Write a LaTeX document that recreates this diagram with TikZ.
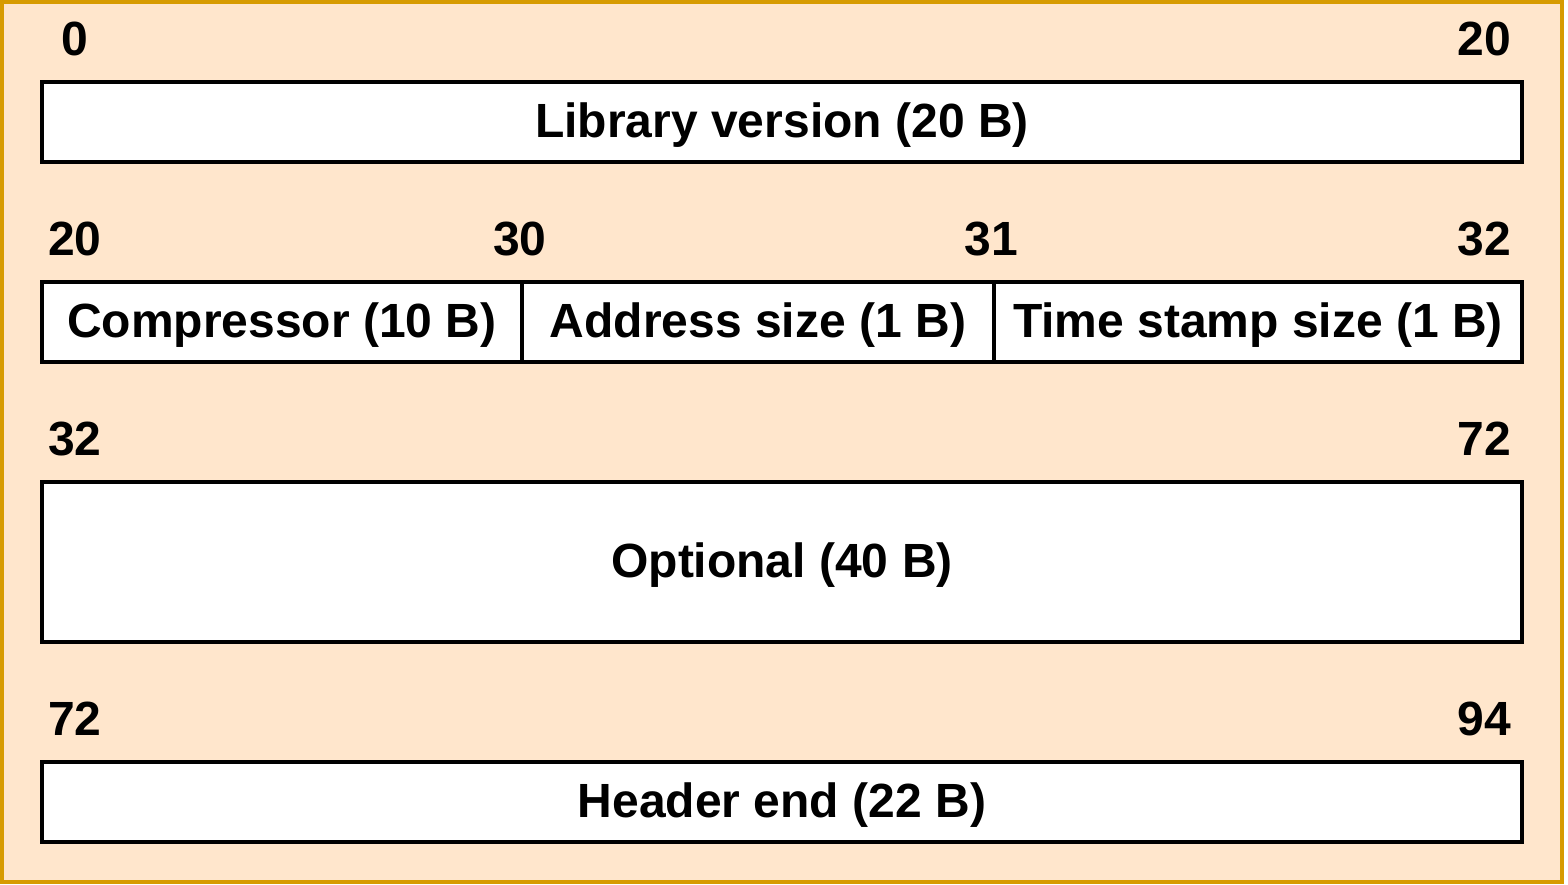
\documentclass[tikz,border=0pt]{standalone}
\usepackage{fontspec}
\setmainfont{Liberation Sans}
\definecolor{bgfill}{HTML}{FFE6CC}
\definecolor{bgline}{HTML}{D79B00}
\begin{document}
\begin{tikzpicture}[x=0.5pt,y=-0.5pt,
  field/.style={draw=black,fill=white,line width=1.8pt,inner sep=0pt,
    text height=18pt,text depth=3pt,
    font=\fontsize{24}{29}\selectfont\bfseries},
  num/.style={inner sep=0pt,font=\fontsize{24}{29}\selectfont\bfseries}]
\useasboundingbox (0,0) rectangle (1568,884);
\draw[draw=bgline,fill=bgfill,line width=2pt] (2,2) rectangle (1562,882);
% row 1
\node[field,minimum width=740pt,minimum height=40pt] (lib) at (782,122) {Library version (20 B)};
\node[num] (n0) at (75,39) {0};
\node[num] (n20a) at (1484,39) {20};
% row 2
\node[field,minimum width=240pt,minimum height=40pt] (comp) at (282,322) {Compressor (10 B)};
\node[field,minimum width=236pt,minimum height=40pt] (addr) at (758,322) {Address size (1 B)};
\node[field,minimum width=264pt,minimum height=40pt] (ts) at (1258,322) {Time stamp size (1 B)};
\node[num] (n20b) at (75,239) {20};
\node[num] (n30) at (520,239) {30};
\node[num] (n31) at (991,239) {31};
\node[num] (n32a) at (1484,239) {32};
% row 3
\node[field,minimum width=740pt,minimum height=80pt] (opt) at (782,562) {Optional (40 B)};
\node[num] (n32b) at (75,439) {32};
\node[num] (n72a) at (1484,439) {72};
% row 4
\node[field,minimum width=740pt,minimum height=40pt] (hdr) at (782,802) {Header end (22 B)};
\node[num] (n72b) at (75,719) {72};
\node[num] (n94) at (1484,719) {94};
\end{tikzpicture}
\end{document}
